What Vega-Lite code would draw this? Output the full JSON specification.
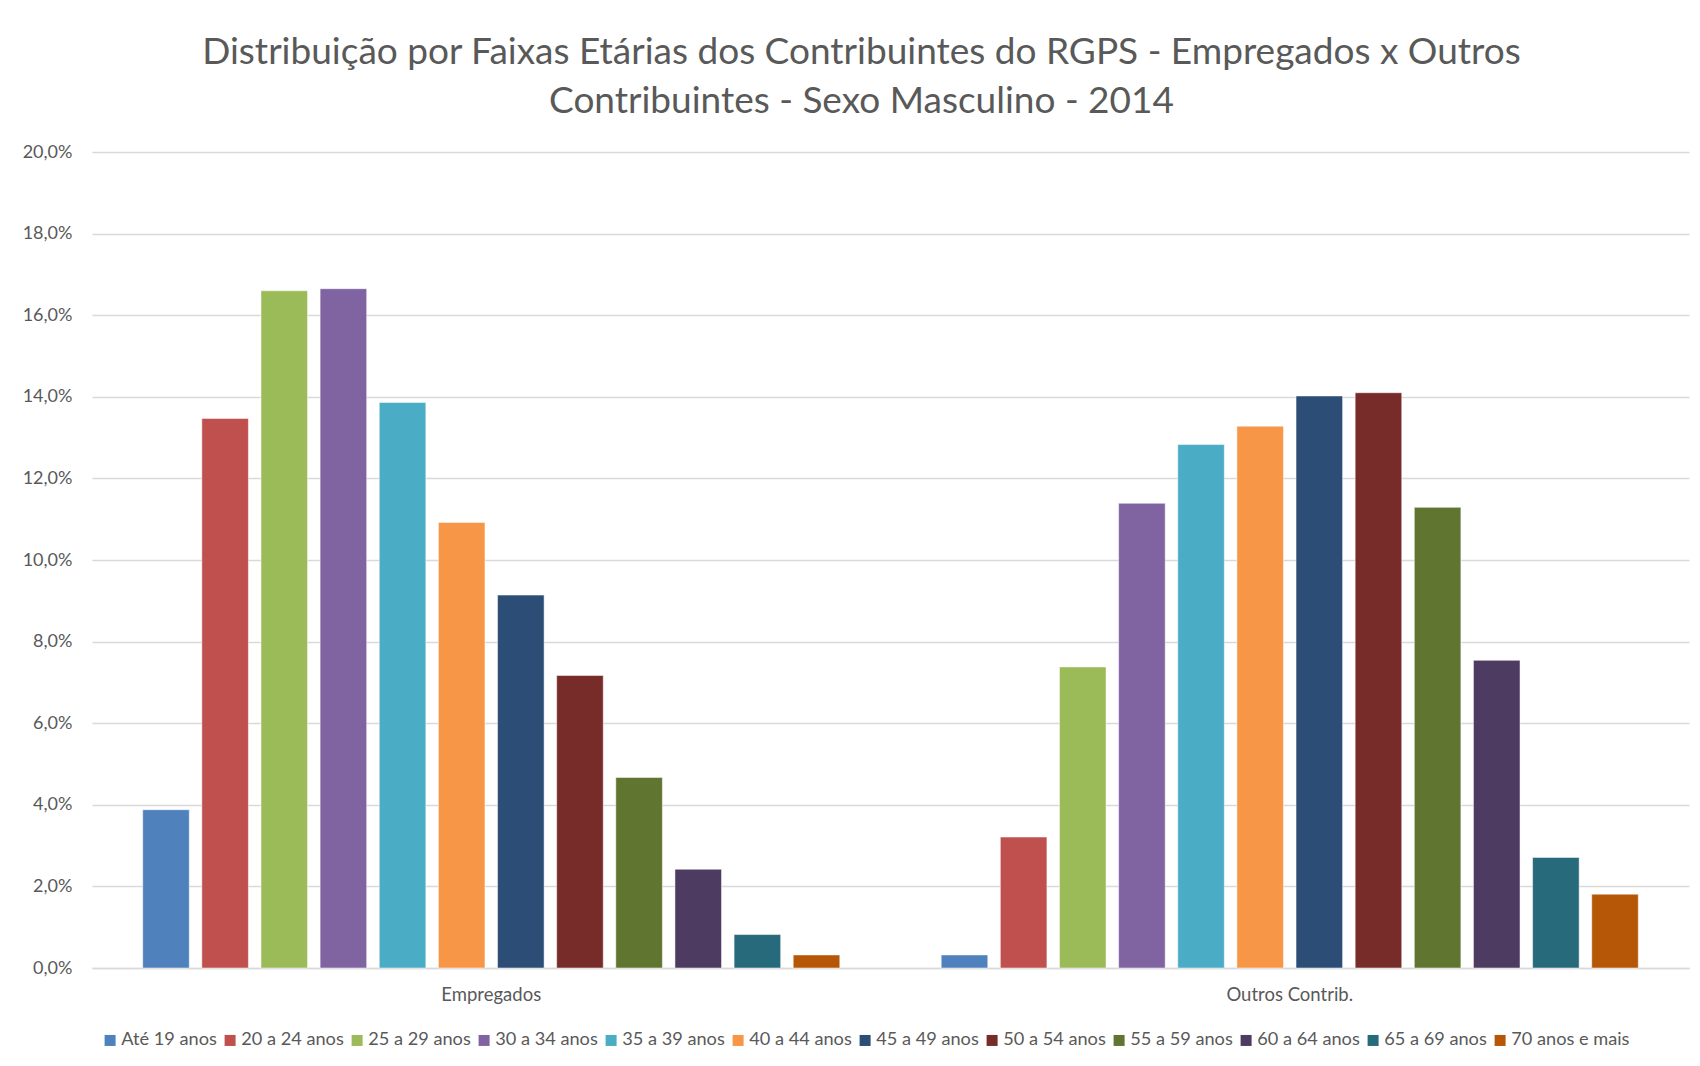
{
  "$schema": "https://vega.github.io/schema/vega-lite/v6.json",
  "width": 1597,
  "height": 816,
  "autosize": {"type": "none"},
  "padding": {"left": 92, "top": 152, "right": 11, "bottom": 98},
  "background": "white",
  "title": {
    "text": ["Distribuição por Faixas Etárias dos Contribuintes do RGPS - Empregados x Outros", "Contribuintes - Sexo Masculino - 2014"],
    "anchor": "middle",
    "frame": "group",
    "dx": -29,
    "offset": 22,
    "font": "Lato",
    "fontSize": 37,
    "fontWeight": "normal",
    "color": "#595959",
    "lineHeight": 49
  },
  "data": {
    "values": [
      {"grupo": "Empregados", "faixa": "Até 19 anos", "valor": 3.88},
      {"grupo": "Empregados", "faixa": "20 a 24 anos", "valor": 13.47},
      {"grupo": "Empregados", "faixa": "25 a 29 anos", "valor": 16.60},
      {"grupo": "Empregados", "faixa": "30 a 34 anos", "valor": 16.65},
      {"grupo": "Empregados", "faixa": "35 a 39 anos", "valor": 13.86},
      {"grupo": "Empregados", "faixa": "40 a 44 anos", "valor": 10.92},
      {"grupo": "Empregados", "faixa": "45 a 49 anos", "valor": 9.14},
      {"grupo": "Empregados", "faixa": "50 a 54 anos", "valor": 7.17},
      {"grupo": "Empregados", "faixa": "55 a 59 anos", "valor": 4.67},
      {"grupo": "Empregados", "faixa": "60 a 64 anos", "valor": 2.42},
      {"grupo": "Empregados", "faixa": "65 a 69 anos", "valor": 0.82},
      {"grupo": "Empregados", "faixa": "70 anos e mais", "valor": 0.32},
      {"grupo": "Outros Contrib.", "faixa": "Até 19 anos", "valor": 0.32},
      {"grupo": "Outros Contrib.", "faixa": "20 a 24 anos", "valor": 3.21},
      {"grupo": "Outros Contrib.", "faixa": "25 a 29 anos", "valor": 7.38},
      {"grupo": "Outros Contrib.", "faixa": "30 a 34 anos", "valor": 11.39},
      {"grupo": "Outros Contrib.", "faixa": "35 a 39 anos", "valor": 12.83},
      {"grupo": "Outros Contrib.", "faixa": "40 a 44 anos", "valor": 13.28},
      {"grupo": "Outros Contrib.", "faixa": "45 a 49 anos", "valor": 14.02},
      {"grupo": "Outros Contrib.", "faixa": "50 a 54 anos", "valor": 14.10},
      {"grupo": "Outros Contrib.", "faixa": "55 a 59 anos", "valor": 11.29},
      {"grupo": "Outros Contrib.", "faixa": "60 a 64 anos", "valor": 7.54},
      {"grupo": "Outros Contrib.", "faixa": "65 a 69 anos", "valor": 2.71},
      {"grupo": "Outros Contrib.", "faixa": "70 anos e mais", "valor": 1.81}
    ]
  },
  "mark": {"type": "bar", "stroke": "white", "strokeWidth": 0.5},
  "encoding": {
    "x": {
      "field": "grupo",
      "type": "nominal",
      "sort": null,
      "scale": {"paddingInner": 0.127, "paddingOuter": 0.0635},
      "axis": {
        "title": null,
        "labelAngle": 0,
        "ticks": false,
        "domainColor": "#d9d9d9",
        "domainWidth": 1.3,
        "labelPadding": 17,
        "labelFont": "Lato",
        "labelFontSize": 18.5,
        "labelColor": "#595959"
      }
    },
    "xOffset": {
      "field": "faixa",
      "type": "nominal",
      "sort": null,
      "scale": {"paddingInner": 0.2125, "paddingOuter": 0}
    },
    "y": {
      "field": "valor",
      "type": "quantitative",
      "scale": {"domain": [0, 20], "nice": false},
      "axis": {
        "title": null,
        "values": [0, 2, 4, 6, 8, 10, 12, 14, 16, 18, 20],
        "labelExpr": "replace(format(datum.value, '.1f'), '.', ',') + '%'",
        "domain": false,
        "ticks": false,
        "grid": true,
        "gridColor": "#d9d9d9",
        "gridWidth": 1.3,
        "labelPadding": 20,
        "labelFont": "Lato",
        "labelFontSize": 18,
        "labelColor": "#595959"
      }
    },
    "color": {
      "field": "faixa",
      "type": "nominal",
      "sort": null,
      "scale": {
        "domain": ["Até 19 anos", "20 a 24 anos", "25 a 29 anos", "30 a 34 anos", "35 a 39 anos", "40 a 44 anos", "45 a 49 anos", "50 a 54 anos", "55 a 59 anos", "60 a 64 anos", "65 a 69 anos", "70 anos e mais"],
        "range": ["#4F81BD", "#C0504D", "#9BBB59", "#8064A2", "#4BACC6", "#F79646", "#2C4D75", "#772C2A", "#5F7530", "#4D3B62", "#276A7C", "#B65708"]
      },
      "legend": {
        "title": null,
        "orient": "none",
        "legendX": 9,
        "legendY": 879,
        "direction": "horizontal",
        "columns": 12,
        "symbolType": "square",
        "symbolSize": 121,
        "symbolStrokeWidth": 0,
        "labelFont": "Lato",
        "labelFontSize": 18.2,
        "labelColor": "#595959",
        "labelOffset": 2,
        "columnPadding": 4
      }
    }
  },
  "config": {"view": {"stroke": null}}
}
